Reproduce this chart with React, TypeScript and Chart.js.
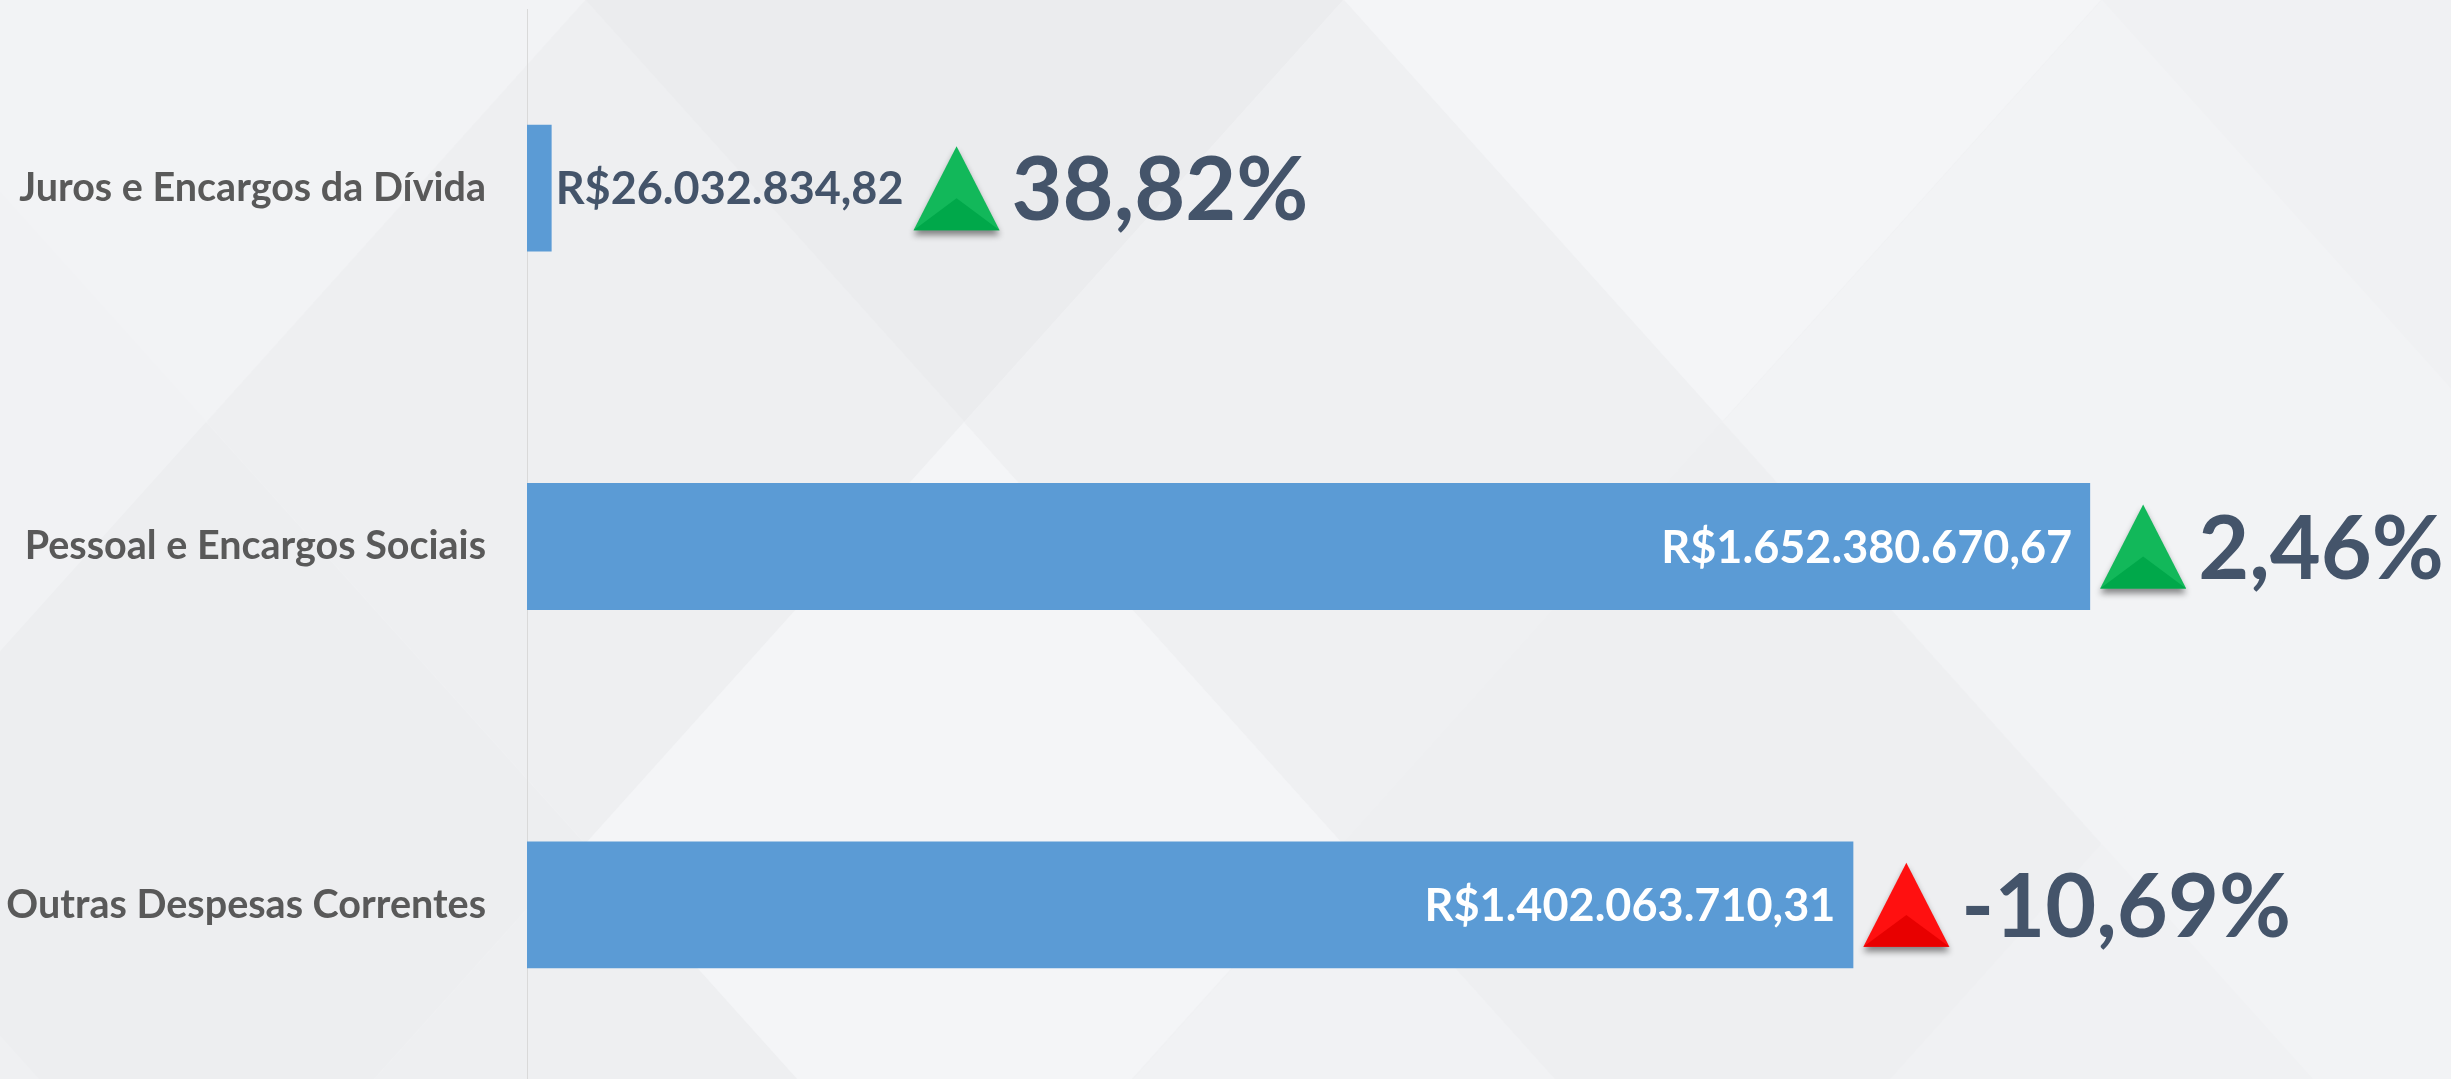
import React, { useEffect, useRef } from "react";
import { Chart, registerables } from "chart.js";

Chart.register(...registerables);

// ---- data ----
const categories = [
  "Juros e Encargos da Dívida",
  "Pessoal e Encargos Sociais",
  "Outras Despesas Correntes",
];
const values = [26032834.82, 1652380670.67, 1402063710.31];
const changes = [38.82, 2.46, -10.69];
const trendUp = [true, true, false];
const xMin = 0;
const xMax = 2000000000;

const W = 2451;
const H = 1084;

const fmtMoney = (v: number) =>
  "R$" + v.toLocaleString("pt-BR", { minimumFractionDigits: 2, maximumFractionDigits: 2 });
const fmtPct = (v: number) =>
  v.toLocaleString("pt-BR", { minimumFractionDigits: 2, maximumFractionDigits: 2 }) + "%";

// decorative diamond background
const bgPlugin = {
  id: "bgDiamonds",
  beforeDraw(chart: any) {
    const ctx = chart.ctx as CanvasRenderingContext2D;
    ctx.save();
    ctx.fillStyle = "#F0F1F3";
    ctx.fillRect(0, 0, chart.width, chart.height);
    const hw = 379;
    const hh = 422;
    const shades: Record<string, string> = {
      "0,-1": "#F2F3F5", "0,0": "#EBECEE", "0,1": "#F4F5F7", "0,2": "#F0F1F3",
      "1,-1": "#F1F2F4", "1,0": "#EEEFF1", "1,1": "#EFF0F2", "1,2": "#F2F3F5",
      "2,-1": "#EDEEF0", "2,0": "#F4F5F7", "2,1": "#EEEFF1", "2,2": "#F2F3F5",
      "3,-1": "#EFF0F2", "3,0": "#EEEFF1", "3,1": "#F1F2F4", "3,2": "#F0F1F3",
    };
    for (let r = 0; r < 4; r++) {
      for (let k = -1; k < 3; k++) {
        const cx = (r % 2 === 0 ? 964 : 586) + k * 758;
        const cy = r * hh;
        ctx.fillStyle = shades[r + "," + k] || "#F0F1F3";
        ctx.beginPath();
        ctx.moveTo(cx, cy - hh);
        ctx.lineTo(cx + hw, cy);
        ctx.lineTo(cx, cy + hh);
        ctx.lineTo(cx - hw, cy);
        ctx.closePath();
        ctx.fill();
      }
    }
    ctx.restore();
  },
};

const overlayPlugin = {
  id: "overlay",
  afterDatasetsDraw(chart: any) {
    const ctx = chart.ctx as CanvasRenderingContext2D;
    const meta = chart.getDatasetMeta(0);
    meta.data.forEach((bar: any, i: number) => {
      const { x, y, base } = bar.getProps(["x", "y", "base"], true);
      const txt = fmtMoney(values[i]);
      ctx.save();
      ctx.font = "bold 45px Lato";
      ctx.textBaseline = "alphabetic";
      const w = ctx.measureText(txt).width;
      let end: number;
      if (x - base > w + 40) {
        ctx.fillStyle = "#FFFFFF";
        ctx.textAlign = "right";
        ctx.fillText(txt, x - 18, y + 16);
        end = x;
      } else {
        ctx.fillStyle = "#44546A";
        ctx.textAlign = "left";
        ctx.fillText(txt, x + 4, y + 16);
        end = x + 4 + w;
      }
      // triangle
      const tw = 86;
      const th = 84;
      const tl = end + 10;
      const top = y - th / 2;
      const bot = y + th / 2;
      const cx = tl + tw / 2;
      const up = trendUp[i];
      const light = up ? "#12B85A" : "#FF1010";
      const dark = up ? "#00A84A" : "#E80000";
      ctx.save();
      ctx.shadowColor = "rgba(0,0,0,0.45)";
      ctx.shadowBlur = 6;
      ctx.shadowOffsetY = 5;
      ctx.fillStyle = light;
      ctx.beginPath();
      ctx.moveTo(cx, top);
      ctx.lineTo(tl + tw, bot);
      ctx.lineTo(tl, bot);
      ctx.closePath();
      ctx.fill();
      ctx.restore();
      ctx.fillStyle = dark;
      ctx.beginPath();
      ctx.moveTo(cx, top + th * 0.62);
      ctx.lineTo(tl + tw, bot);
      ctx.lineTo(tl, bot);
      ctx.closePath();
      ctx.fill();
      // percent
      ctx.font = "bold 88px Lato";
      ctx.fillStyle = "#44546A";
      ctx.textAlign = "left";
      ctx.fillText(fmtPct(changes[i]), tl + tw + 12, y + 32);
      ctx.restore();
    });
  },
};

export default function App() {
  const ref = useRef<HTMLCanvasElement>(null);
  useEffect(() => {
    if (!ref.current) return;
    const chart = new Chart(ref.current, {
      type: "bar",
      data: {
        labels: categories,
        datasets: [
          {
            data: values,
            backgroundColor: "#5B9BD5",
            borderWidth: 0,
            barPercentage: 0.354,
            categoryPercentage: 1,
          },
        ],
      },
      options: {
        indexAxis: "y",
        responsive: false,
        animation: false,
        devicePixelRatio: 1,
        layout: { padding: { top: 9, right: 32, bottom: 0, left: 0 } },
        plugins: {
          legend: { display: false },
          tooltip: { enabled: false },
          title: { display: false },
        },
        scales: {
          x: { display: false, min: xMin, max: xMax },
          y: {
            grid: { display: false, drawTicks: false },
            border: { display: true, color: "#D9D9D9", width: 1 },
            ticks: {
              padding: 41,
              color: "#595959",
              font: { family: "Lato", weight: "bold", size: 39.5 },
            },
            afterFit: (scale: any) => {
              scale.width = 527;
              scale.paddingTop = 0;
              scale.paddingBottom = 0;
            },
          },
        },
      },
      plugins: [bgPlugin, overlayPlugin],
    });
    return () => chart.destroy();
  }, []);
  return (
    <div
      style={{
        position: "fixed",
        left: 0,
        top: 0,
        width: 2451,
        height: 1079,
        overflow: "hidden",
      }}
    >
      <canvas ref={ref} width={W} height={H} style={{ display: "block", width: W, height: H }} />
    </div>
  );
}
